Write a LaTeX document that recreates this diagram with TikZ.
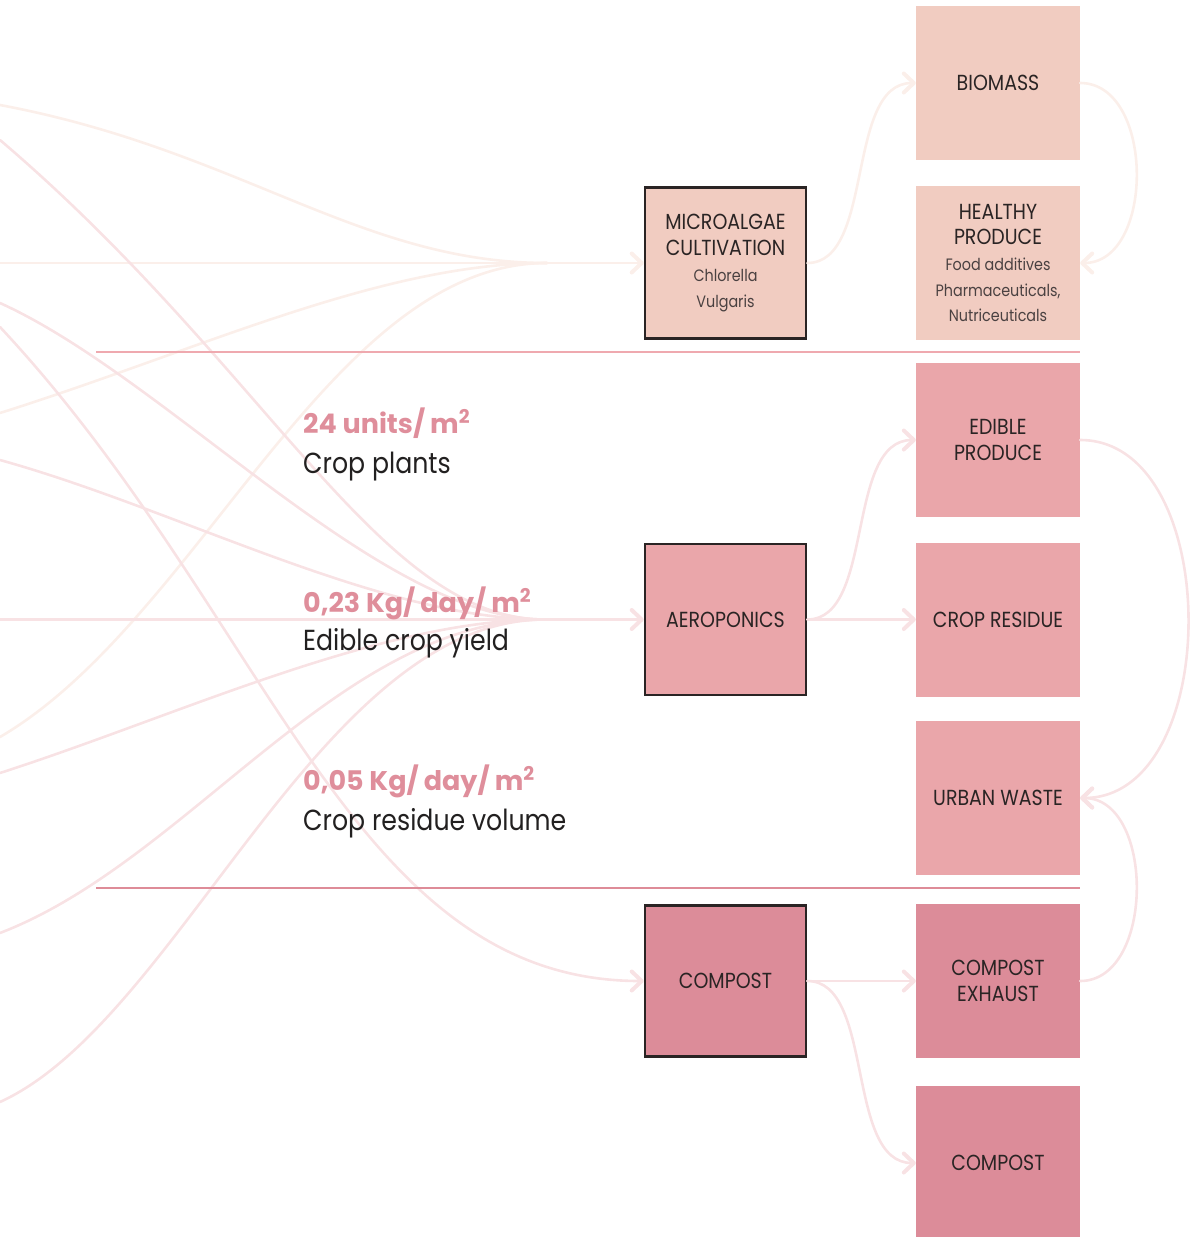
\documentclass[tikz,border=0pt]{standalone}
\usepackage{fontspec}
\setmainfont{Poppins}[FakeStretch=0.87]
\newfontfamily\figfont{Poppins}
\usetikzlibrary{arrows.meta}

\definecolor{peach}{HTML}{F1CCC1}
\definecolor{rosebox}{HTML}{EAA6AA}
\definecolor{deeprose}{HTML}{DC8C99}
\definecolor{ink}{HTML}{2A2424}
\definecolor{subink}{HTML}{4A4141}
\definecolor{cream}{HTML}{FBEFEA}
\definecolor{blush}{HTML}{F8E2E4}
\definecolor{figpink}{HTML}{DF8E9B}
\definecolor{ruletop}{HTML}{EFA9AF}
\definecolor{rulebot}{HTML}{DE8C98}
\definecolor{labelink}{HTML}{222020}

\newcommand\boxfont{\fontsize{21.8}{25.7}\selectfont}
\newcommand\subfont{\fontsize{16.5}{24}\selectfont\color{subink}}
\newcommand\per{/\hspace{5pt}}

\begin{document}
\begin{tikzpicture}[x=1pt,y=-1pt,
  box/.style={rectangle, minimum width=164pt, minimum height=154pt,
    inner sep=0pt, align=center, text=ink, font=\boxfont},
  mainbox/.style={box, draw=ink, line width=2.6pt,
    minimum width=161pt, minimum height=151pt},
  flowline/.style={line width=2.6pt, line cap=round},
  flow/.style={flowline,
    -{Straight Barb[length=10pt,width=19pt,line width=4pt,round]}},
  figtxt/.style={anchor=base west, inner sep=0pt, text=figpink,
    font=\figfont\fontsize{27}{30}\selectfont\bfseries},
  captxt/.style={anchor=base west, inner sep=0pt, text=labelink,
    font=\fontsize{29}{32}\selectfont},
]
\useasboundingbox (0,0) rectangle (1196,1237);

% process boxes
\node[mainbox, fill=peach] (micro) at (725.5,263)
  {MICROALGAE\\CULTIVATION\\{\subfont Chlorella}\\{\subfont Vulgaris}};
\node[box, fill=peach] (biomass) at (998,83) {BIOMASS};
\node[box, fill=peach] (healthy) at (998,263)
  {HEALTHY\\PRODUCE\\{\subfont Food additives}\\{\subfont Pharmaceuticals,}\\{\subfont Nutriceuticals}};
\node[box, fill=rosebox] (edible) at (998,440) {EDIBLE\\PRODUCE};
\node[mainbox, fill=rosebox] (aero) at (725.5,619.5) {AEROPONICS};
\node[box, fill=rosebox] (residue) at (998,619.5) {CROP RESIDUE};
\node[box, fill=rosebox] (urban) at (998,798) {URBAN WASTE};
\node[mainbox, fill=deeprose] (compost) at (725.5,981) {COMPOST};
\node[box, fill=deeprose] (exhaust) at (998,981) {COMPOST\\EXHAUST};
\node[box, fill=deeprose] (compostout) at (998,1163) {COMPOST};

% inflow origins on the left edge and merge points
\coordinate (c1) at (0,105);
\coordinate (c2) at (0,263);
\coordinate (c3) at (0,413);
\coordinate (c4) at (0,737);
\coordinate (p1) at (0,140);
\coordinate (p2) at (0,303);
\coordinate (p3) at (0,460);
\coordinate (p4) at (0,619.5);
\coordinate (p5) at (0,773);
\coordinate (p6) at (0,933);
\coordinate (p7) at (0,1102);
\coordinate (k1) at (0,327);
\coordinate (mmerge) at (547,263);
\coordinate (amerge) at (545,619.5);

% inflows to microalgae
\draw[flowline, cream] (c1) .. controls (240,150) and (360,263) .. (mmerge);
\draw[flowline, cream] (c2) -- (mmerge);
\draw[flowline, cream] (c3) .. controls (200,350) and (380,263) .. (mmerge);
\draw[flowline, cream] (c4) .. controls (200,620) and (330,263) .. (mmerge);
\draw[flow, cream] (mmerge) -- (micro.west);

% inflows to aeroponics
\draw[flowline, blush] (p1) .. controls (270,370) and (380,619.5) .. (amerge);
\draw[flowline, blush] (p2) .. controls (170,380) and (380,619.5) .. (amerge);
\draw[flowline, blush] (p3) .. controls (180,510) and (380,619.5) .. (amerge);
\draw[flowline, blush] (p4) -- (amerge);
\draw[flowline, blush] (p5) .. controls (180,715) and (380,619.5) .. (amerge);
\draw[flowline, blush] (p6) .. controls (190,860) and (340,619.5) .. (amerge);
\draw[flowline, blush] (p7) .. controls (180,1020) and (320,619.5) .. (amerge);
\draw[flow, blush] (amerge) -- (aero.west);

% inflow to compost
\draw[flow, blush] (k1) .. controls (270,616) and (350,981) .. (compost.west);

% outputs
\draw[flow, cream] (micro.east) .. controls (875,263) and (845,83) .. (biomass.west);
\draw[flow, cream] (biomass.east) .. controls (1155,83) and (1155,263) .. (healthy.east);
\draw[flow, blush] (aero.east) .. controls (875,619.5) and (845,440) .. (edible.west);
\draw[flow, blush] (aero.east) -- (residue.west);
\draw[flow, blush] (edible.east) .. controls (1224,440) and (1224,798) .. (urban.east);
\draw[flow, blush] (exhaust.east) .. controls (1155,981) and (1155,798) .. (urban.east);
\draw[flow, blush] (compost.east) -- (exhaust.west);
\draw[flow, blush] (compost.east) .. controls (875,981) and (845,1163) .. (compostout.west);

% section rules
\draw[ruletop, line width=1.8pt] (96,352) -- (1080,352);
\draw[rulebot, line width=1.8pt] (96,888) -- (1080,888);

% figures
\node[figtxt] (f1) at (303,433) {24 units\per m\textsuperscript{2}};
\node[captxt] (l1) at (303,473) {Crop plants};
\node[figtxt] (f2) at (303,612) {0,23 Kg\per day\per m\textsuperscript{2}};
\node[captxt] (l2) at (303,650) {Edible crop yield};
\node[figtxt] (f3) at (303,790) {0,05 Kg\per day\per m\textsuperscript{2}};
\node[captxt] (l3) at (303,830) {Crop residue volume};
\end{tikzpicture}
\end{document}
